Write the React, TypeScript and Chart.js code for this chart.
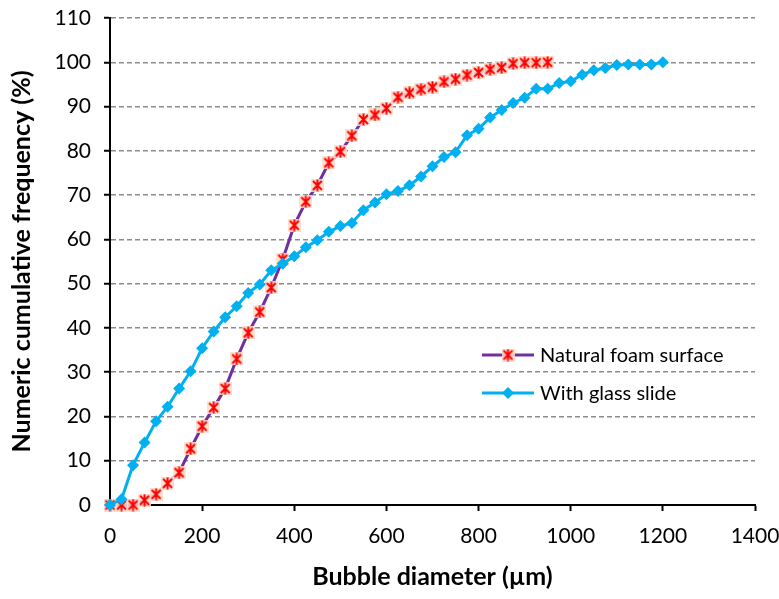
import React, { useEffect, useRef } from "react";
import { Chart, registerables } from "chart.js";

Chart.register(...registerables);

const foamDiameters = [
  0, 25, 50, 75, 100, 125, 150, 175, 200, 225, 250, 275, 300, 325, 350, 375, 400, 425, 450, 475,
  500, 525, 550, 575, 600, 625, 650, 675, 700, 725, 750, 775, 800, 825, 850, 875, 900, 925, 950,
];
const foamFrequency = [
  0, 0, 0, 1.1, 2.4, 4.9, 7.3, 12.7, 17.8, 22.0, 26.3, 33.0, 38.9, 43.6, 49.1, 55.5, 63.2, 68.5, 72.2, 77.3,
  79.8, 83.4, 87.1, 88.1, 89.6, 92.1, 93.1, 93.9, 94.4, 95.6, 96.2, 97.1, 97.7, 98.4, 98.8, 99.7, 99.9, 99.9, 100,
];
const slideDiameters = [
  0, 25, 50, 75, 100, 125, 150, 175, 200, 225, 250, 275, 300, 325, 350, 375, 400, 425, 450, 475,
  500, 525, 550, 575, 600, 625, 650, 675, 700, 725, 750, 775, 800, 825, 850, 875, 900, 925, 950, 975,
  1000, 1025, 1050, 1075, 1100, 1125, 1150, 1175, 1200,
];
const slideFrequency = [
  0, 1.3, 9.0, 14.1, 18.9, 22.2, 26.3, 30.2, 35.4, 39.2, 42.4, 44.9, 47.9, 49.8, 53.0, 54.5, 56.2, 58.2, 59.8, 61.7,
  63.0, 63.7, 66.6, 68.3, 70.2, 70.9, 72.2, 74.2, 76.5, 78.6, 79.7, 83.5, 85.0, 87.5, 89.2, 90.8, 92.0, 94.0, 94.0, 95.3,
  95.7, 97.2, 98.2, 98.7, 99.4, 99.5, 99.5, 99.5, 100,
];
const seriesLabels = ["Natural foam surface", "With glass slide"];
const xAxisTitle = "Bubble diameter (µm)";
const yAxisTitle = "Numeric cumulative frequency (%)";

const FONT = "Lato, 'DejaVu Sans', sans-serif";
const PURPLE = "#7030A0";
const RED = "#FF0000";
const BLUE = "#00B0F0";

function makeStar(): HTMLCanvasElement {
  const c = document.createElement("canvas");
  c.width = 13;
  c.height = 13;
  const g = c.getContext("2d")!;
  g.fillStyle = "rgba(250, 220, 200, 0.85)";
  g.fillRect(0, 0, 13, 13);
  g.strokeStyle = RED;
  g.lineWidth = 2;
  g.beginPath();
  g.moveTo(2, 2);
  g.lineTo(11, 11);
  g.moveTo(11, 2);
  g.lineTo(2, 11);
  g.moveTo(6.5, 0.5);
  g.lineTo(6.5, 12.5);
  g.stroke();
  return c;
}

const legendPlugin = {
  id: "inlineLegend",
  afterDraw(chart: any, _args: any, opts: any) {
    const ctx = chart.ctx as CanvasRenderingContext2D;
    const star = opts.star as HTMLCanvasElement;
    const x0 = 482;
    const x1 = 534;
    const xm = (x0 + x1) / 2;
    const tx = 540;
    const rows = [355, 393];
    ctx.save();
    ctx.font = `20px ${FONT}`;
    ctx.textBaseline = "middle";
    ctx.textAlign = "left";
    rows.forEach((y, i) => {
      ctx.strokeStyle = i === 0 ? PURPLE : BLUE;
      ctx.lineWidth = 3;
      ctx.beginPath();
      ctx.moveTo(x0, y);
      ctx.lineTo(x1, y);
      ctx.stroke();
      if (i === 0) {
        ctx.drawImage(star, xm - 6.5, y - 6.5);
      } else {
        ctx.fillStyle = BLUE;
        ctx.beginPath();
        ctx.moveTo(xm, y - 6);
        ctx.lineTo(xm + 6, y);
        ctx.lineTo(xm, y + 6);
        ctx.lineTo(xm - 6, y);
        ctx.closePath();
        ctx.fill();
      }
      ctx.fillStyle = "#000";
      ctx.fillText(seriesLabels[i], tx, y + 1);
    });
    ctx.restore();
  },
};

export default function App() {
  const ref = useRef<HTMLCanvasElement | null>(null);
  useEffect(() => {
    if (!ref.current) return;
    const star = makeStar();
    const chart = new Chart(ref.current, {
      type: "line",
      data: {
        datasets: [
          {
            label: seriesLabels[1],
            data: slideDiameters.map((d, i) => ({ x: d, y: slideFrequency[i] })),
            borderColor: BLUE,
            backgroundColor: BLUE,
            borderWidth: 3,
            pointStyle: "rectRot",
            pointRadius: 6,
            pointBorderWidth: 0,
            pointBackgroundColor: BLUE,
            clip: false as any,
            order: 0,
          },
          {
            label: seriesLabels[0],
            data: foamDiameters.map((d, i) => ({ x: d, y: foamFrequency[i] })),
            borderColor: PURPLE,
            backgroundColor: RED,
            borderWidth: 3,
            pointStyle: star as any,
            pointRadius: 6,
            clip: false as any,
            order: 1,
          },
        ],
      },
      options: {
        animation: false,
        responsive: false,
        devicePixelRatio: 1,
        layout: { padding: { top: 18, right: 24, left: 0, bottom: 0 } },
        plugins: {
          legend: { display: false },
          tooltip: { enabled: false },
          inlineLegend: { star },
        } as any,
        scales: {
          x: {
            type: "linear",
            min: 0,
            max: 1400,
            ticks: {
              stepSize: 200,
              color: "#000",
              font: { family: FONT, size: 21 },
              padding: 13,
              maxRotation: 0,
              callback: (v: any) => String(v),
            },
            grid: {
              drawOnChartArea: false,
              drawTicks: true,
              tickLength: 6,
              tickColor: "#000",
              tickWidth: 2,
            },
            border: { color: "#000", width: 2 },
            title: {
              display: true,
              text: xAxisTitle,
              color: "#000",
              font: { family: FONT, size: 25, weight: "bold" },
              padding: { top: 4, bottom: 7 },
            },
            afterFit: (s: any) => {
              s.height = 94;
              s.paddingLeft = 0;
              s.paddingRight = 0;
            },
          },
          y: {
            type: "linear",
            min: 0,
            max: 110,
            ticks: {
              stepSize: 10,
              color: "#000",
              font: { family: FONT, size: 21 },
              padding: 13,
              callback: (v: any) => String(v),
            },
            grid: {
              color: (c: any) => (c.tick && c.tick.value === 0 ? "rgba(0,0,0,0)" : "#8c8c8c"),
              lineWidth: 1.5,
              drawTicks: true,
              tickLength: 6,
              tickColor: "#000",
              tickWidth: 2,
            },
            border: { color: "#000", width: 2, dash: [5, 3] },
            title: {
              display: true,
              text: yAxisTitle,
              color: "#000",
              font: { family: FONT, size: 25, weight: "bold" },
              padding: { top: 7, bottom: 4 },
            },
            afterFit: (s: any) => {
              s.width = 110;
              s.paddingTop = 0;
              s.paddingBottom = 0;
            },
          },
        },
      },
      plugins: [legendPlugin],
    });
    return () => chart.destroy();
  }, []);
  return (
    <div style={{ position: "absolute", left: 0, top: 0, width: 779, height: 599, background: "#fff" }}>
      <canvas ref={ref} width={779} height={599} style={{ display: "block" }} />
    </div>
  );
}
